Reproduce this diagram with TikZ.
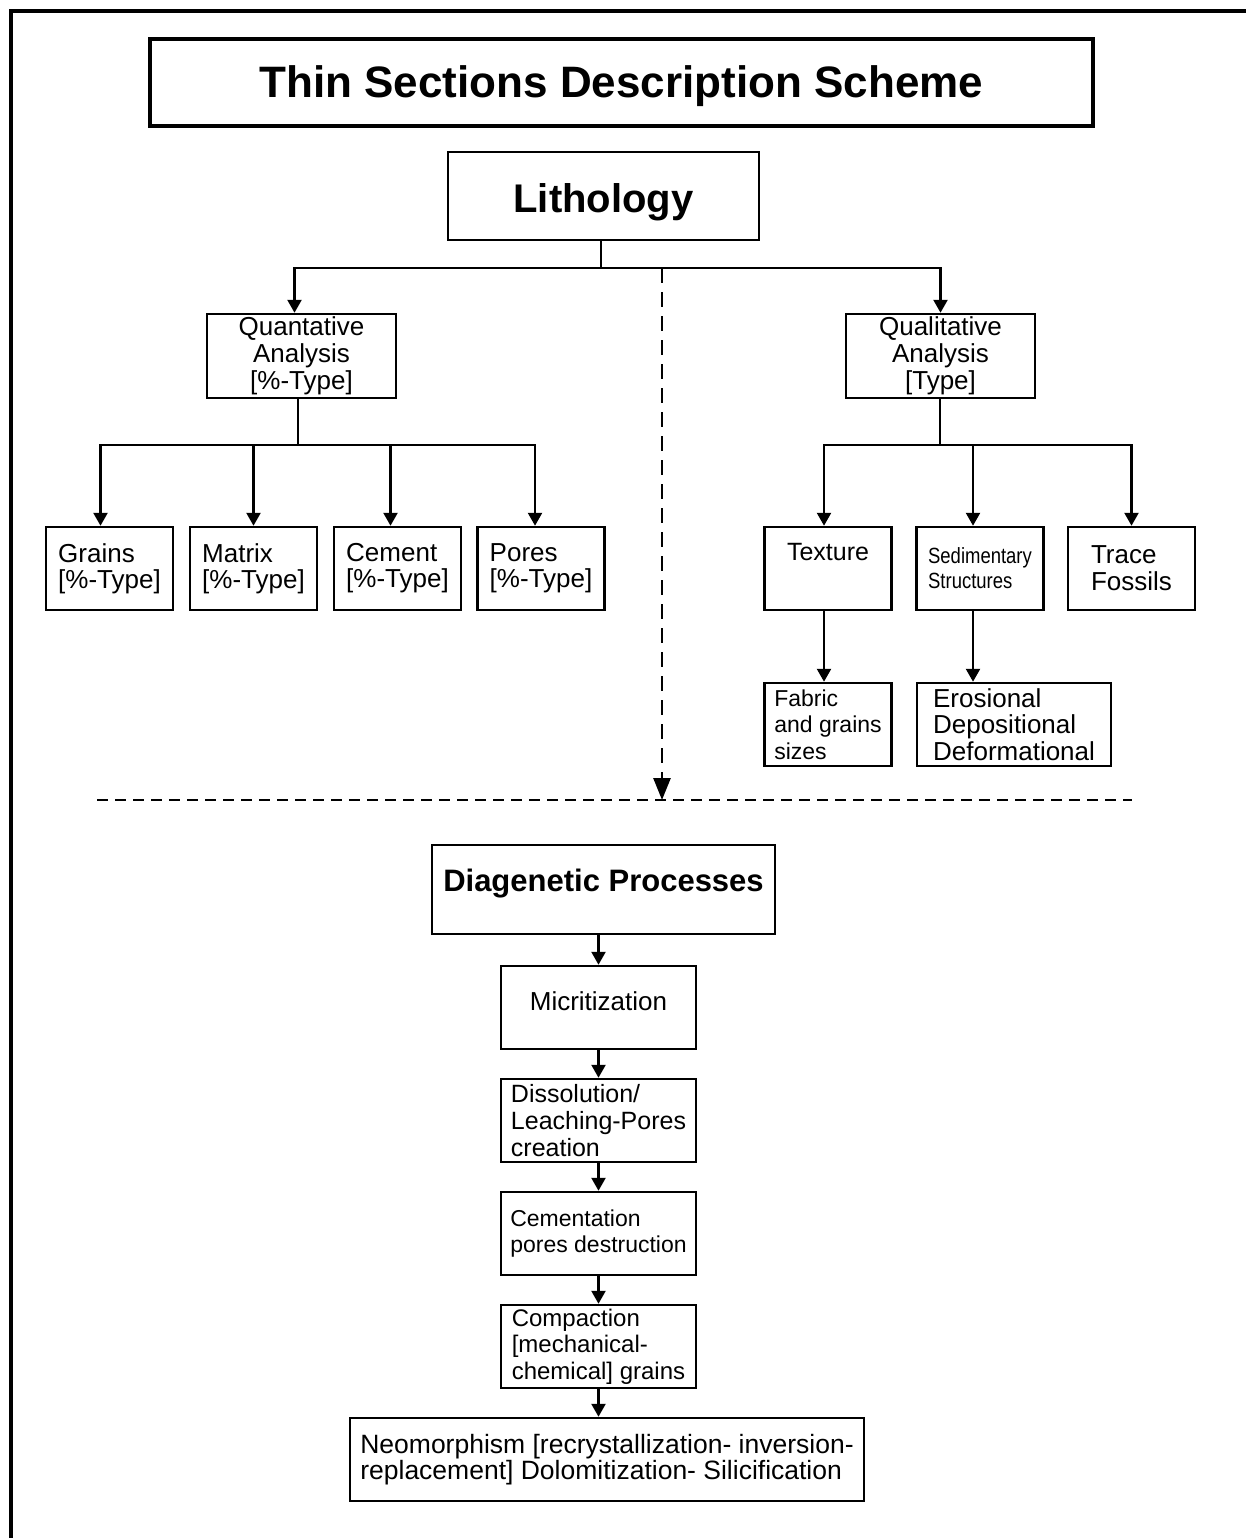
\documentclass[tikz,border=0pt]{standalone}
\usepackage{fontspec}
\setmainfont{Liberation Sans}
\usepackage{graphicx}
\usetikzlibrary{arrows.meta}
\newcommand{\fsz}[2]{\fontsize{#1}{#2}\selectfont}
\newcommand{\narrowtxt}[1]{\scalebox{0.84}[1]{#1}}

\begin{document}
\begin{tikzpicture}[x=1pt,y=-1pt,
	boxn/.style={draw,line width=2.5pt,inner sep=0pt,align=center,minimum height=83pt},
	smallbox/.style={boxn,minimum width=127pt,align=left},
	flowbox/.style={boxn,minimum width=195pt,align=left},
	conn/.style={line width=2.5pt},
	arr/.style={line width=2.5pt,-{Triangle[length=13pt,width=14pt]}},
	dashln/.style={line width=2.7pt,dash pattern=on 11pt off 7pt},
	darr/.style={line width=2.7pt,dash pattern=on 15pt off 9pt,-{Triangle[length=22pt,width=17pt]}}]
	\useasboundingbox (0,0) rectangle (1245,1538);
	\draw[line width=4pt] (11,1545) -- (11,11) -- (1250,11);

	\node[boxn,line width=4pt,minimum width=943.5pt,minimum height=87.5pt,font=\fsz{44}{48}\bfseries,text depth=3pt] (title) at (621.25,82.75) {Thin Sections Description Scheme};
	\node[boxn,minimum width=311pt,minimum height=88pt,font=\fsz{40}{44}\bfseries,text height=34pt,text depth=0pt] (litho) at (603.5,196) {Lithology};

	\node[boxn,minimum width=189pt,minimum height=84pt,font=\fsz{26}{27}] (quant) at (301.5,356) {Quantative\\Analysis\\{[}\%-Type{]}};
	\node[boxn,minimum width=189pt,minimum height=84pt,font=\fsz{26}{27}] (qual) at (940.5,356) {Qualitative\\Analysis\\{[}Type{]}};

	\node[smallbox,font=\fsz{26}{26}] (grains) at (109.5,568.5) {Grains\\{[}\%-Type{]}};
	\node[smallbox,font=\fsz{26}{26}] (mtx) at (253.5,568.5) {Matrix\\{[}\%-Type{]}};
	\node[smallbox,font=\fsz{26}{26}] (cement) at (397.5,568.5) {Cement\\{[}\%-Type{]}};
	\node[smallbox,font=\fsz{26}{26}] (pores) at (541,568.5) {Pores\\{[}\%-Type{]}};

	\node[smallbox,font=\fsz{25}{26},text depth=33pt] (texture) at (828,568.5) {Texture};
	\node[smallbox,font=\fsz{22}{25}] (sedim) at (980,568.5) {\narrowtxt{Sedimentary}\\\narrowtxt{Structures}};
	\node[smallbox,font=\fsz{26}{27}] (trace) at (1131.5,568.5) {Trace\\Fossils};
	\node[smallbox,font=\fsz{23}{26.5}] (fabric) at (828,724.5) {Fabric\\and grains\\sizes};
	\node[boxn,minimum width=194pt,align=left,font=\fsz{26}{26.5}] (eros) at (1014,724.5) {Erosional\\Depositional\\Deformational};

	\node[boxn,minimum width=343pt,minimum height=89pt,font=\fsz{31}{34}\bfseries,text depth=18pt] (diag) at (603.5,889.5) {Diagenetic Processes};
	\node[flowbox,align=center,font=\fsz{26}{27},text depth=12.6pt] (micr) at (598.5,1007.5) {Micritization};
	\node[flowbox,font=\fsz{25}{27}] (diss) at (598.5,1120.5) {Dissolution/\\Leaching-Pores\\creation};
	\node[flowbox,font=\fsz{23}{26}] (cem) at (598.5,1233.5) {Cementation\\pores destruction};
	\node[flowbox,font=\fsz{24}{26.5}] (comp) at (598.5,1346.5) {Compaction\\{[}mechanical-\\chemical{]} grains};
	\node[boxn,minimum width=514pt,align=left,font=\fsz{26.5}{26}] (neo) at (607,1459.5) {Neomorphism {[}recrystallization- inversion-\\replacement{]} Dolomitization- Silicification};

	\coordinate (lbus) at (601,268);
	\coordinate (qbus) at (298,445);
	\coordinate (rbus) at (940,445);
	\coordinate (dtop) at (662,268);
	\coordinate (dend) at (662,800);
	\coordinate (dleft) at (97,800);
	\coordinate (dright) at (1132,800);
	\coordinate (sedout) at ([xshift=-7pt]sedim.south);

	\draw[conn] (litho.south -| lbus) -- (lbus);
	\draw[arr] (lbus) -| ([xshift=-7pt]quant.north);
	\draw[arr] (lbus) -| (qual.north);

	\draw[conn] (quant.south -| qbus) -- (qbus);
	\draw[arr] (qbus) -| ([xshift=-9pt]grains.north);
	\draw[arr] (qbus) -| (mtx.north);
	\draw[arr] (qbus) -| ([xshift=-7pt]cement.north);
	\draw[arr] (qbus) -| ([xshift=-6pt]pores.north);

	\draw[conn] (qual.south -| rbus) -- (rbus);
	\draw[arr] (rbus) -| ([xshift=-4pt]texture.north);
	\draw[arr] (rbus) -| (sedout |- sedim.north);
	\draw[arr] (rbus) -| (trace.north);
	\draw[arr] ([xshift=-4pt]texture.south) -- ([xshift=-4pt]fabric.north);
	\draw[arr] (sedout) -- (sedout |- eros.north);

	\draw[darr] (dtop) -- (dend);
	\draw[dashln] (dleft) -- (dright);

	\path[arr] (diag.south -| micr.north) edge (micr.north)
		(micr) edge (diss)
		(diss) edge (cem)
		(cem) edge (comp)
		(comp.south) edge (comp.south |- neo.north);
\end{tikzpicture}
\end{document}
